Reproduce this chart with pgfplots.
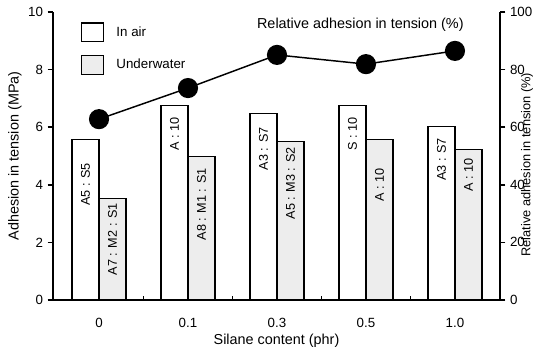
\documentclass[border=0pt]{standalone}
\usepackage{fontspec}
\setmainfont{Liberation Sans}
\usepackage{pgfplots}
\pgfplotsset{compat=1.18}
\definecolor{uwfill}{gray}{0.93}
\begin{document}
\begin{tikzpicture}
\useasboundingbox (0,0) rectangle (400.5pt,260.25pt);
\pgfplotsset{
  common/.style={
    at={(39.75pt,35.25pt)}, anchor=south west,
    scale only axis, width=335.25pt, height=216pt,
    xmin=-0.517, xmax=4.506,
    clip=false,
    /pgf/number format/assume math mode=true,
    tick label style={font=\fontsize{10}{12}\selectfont},
    label style={font=\fontsize{10.8}{13}\selectfont},
    axis line style={line width=1.5pt},
    tick style={line width=1.2pt, black},
    tick align=outside,
    major tick length=4pt,
  }
}
\begin{axis}[common,
  ymin=0, ymax=10,
  axis x line*=bottom, axis y line*=left,
  ytick={0,2,4,6,8,10},
  xtick={0,1,2,3,4},
  xticklabels={0,0.1,0.3,0.5,1.0},
  major x tick style={draw=none},
  minor xtick={0.5,1.5,2.5,3.5},
  minor x tick style={yshift=3pt, line width=1.2pt},
  minor tick length=3pt,
  xticklabel style={yshift=-6pt},
  xlabel={Silane content (phr)},
  xlabel style={yshift=2pt},
  ylabel={Adhesion in tension (MPa)},
  ylabel style={yshift=-2pt},
  legend style={at={(rel axis cs:0.0626,0.965)}, anchor=north west,
    draw=none, fill=none, inner sep=0pt, row sep=9.5pt,
    font=\fontsize{10}{12}\selectfont, legend cell align=left},
  legend columns=1,
]
\addplot[ybar, bar width=20.25pt, bar shift=-10.1pt, fill=white, draw=black, line width=0.9pt,
  legend image code/.code={\draw[fill=white, draw=black, line width=0.9pt] (0pt,-7pt) rectangle (16.5pt,7pt);}]
  coordinates {(0,5.57) (1,6.75) (2,6.47) (3,6.75) (4,6.02)};
\addlegendentry{\hspace{7pt}In air}
\addplot[ybar, bar width=20.25pt, bar shift=10.1pt, fill=uwfill, draw=black, line width=0.9pt,
  legend image code/.code={\draw[fill=uwfill, draw=black, line width=0.9pt] (0pt,-7pt) rectangle (16.5pt,7pt);}]
  coordinates {(0,3.52) (1,4.97) (2,5.5) (3,5.57) (4,5.22)};
\addlegendentry{\hspace{7pt}Underwater}
% bar labels
\begin{scope}[every node/.style={rotate=90, anchor=east, inner sep=0pt, font=\fontsize{9.5}{11}\selectfont}]
\node at (axis cs:-0.152,4.76) {A5 : S5};
\node at (axis cs:0.152,3.37) {A7 : M2 : S1};
\node at (axis cs:0.848,6.35) {A : 10};
\node at (axis cs:1.152,4.58) {A8 : M1 : S1};
\node at (axis cs:1.848,6.0) {A3 : S7};
\node at (axis cs:2.152,5.31) {A5 : M3 : S2};
\node at (axis cs:2.848,6.35) {S : 10};
\node at (axis cs:3.152,4.58) {A : 10};
\node at (axis cs:3.848,5.63) {A3 : S7};
\node at (axis cs:4.152,4.93) {A : 10};
\end{scope}
\end{axis}
\begin{axis}[common,
  ymin=0, ymax=100,
  axis y line*=right, axis x line=none,
  ytick={0,20,40,60,80,100},
]
\addplot[black, line width=1.1pt, mark=*, mark size=7pt, mark options={fill=black}]
  coordinates {(0,62.8) (1,73.6) (2,85.1) (3,81.9) (4,86.5)};
\node[anchor=west, inner sep=0pt, font=\fontsize{10.8}{13}\selectfont] at (rel axis cs:0.456,0.955) {Relative adhesion in tension (\%)};
\node[xshift=15.6pt, rotate=90, anchor=north, inner sep=0pt, font=\fontsize{9.6}{11}\selectfont] at (rel axis cs:1,0.47) {Relative adhesion in tension (\%)};
\end{axis}
\end{tikzpicture}
\end{document}
